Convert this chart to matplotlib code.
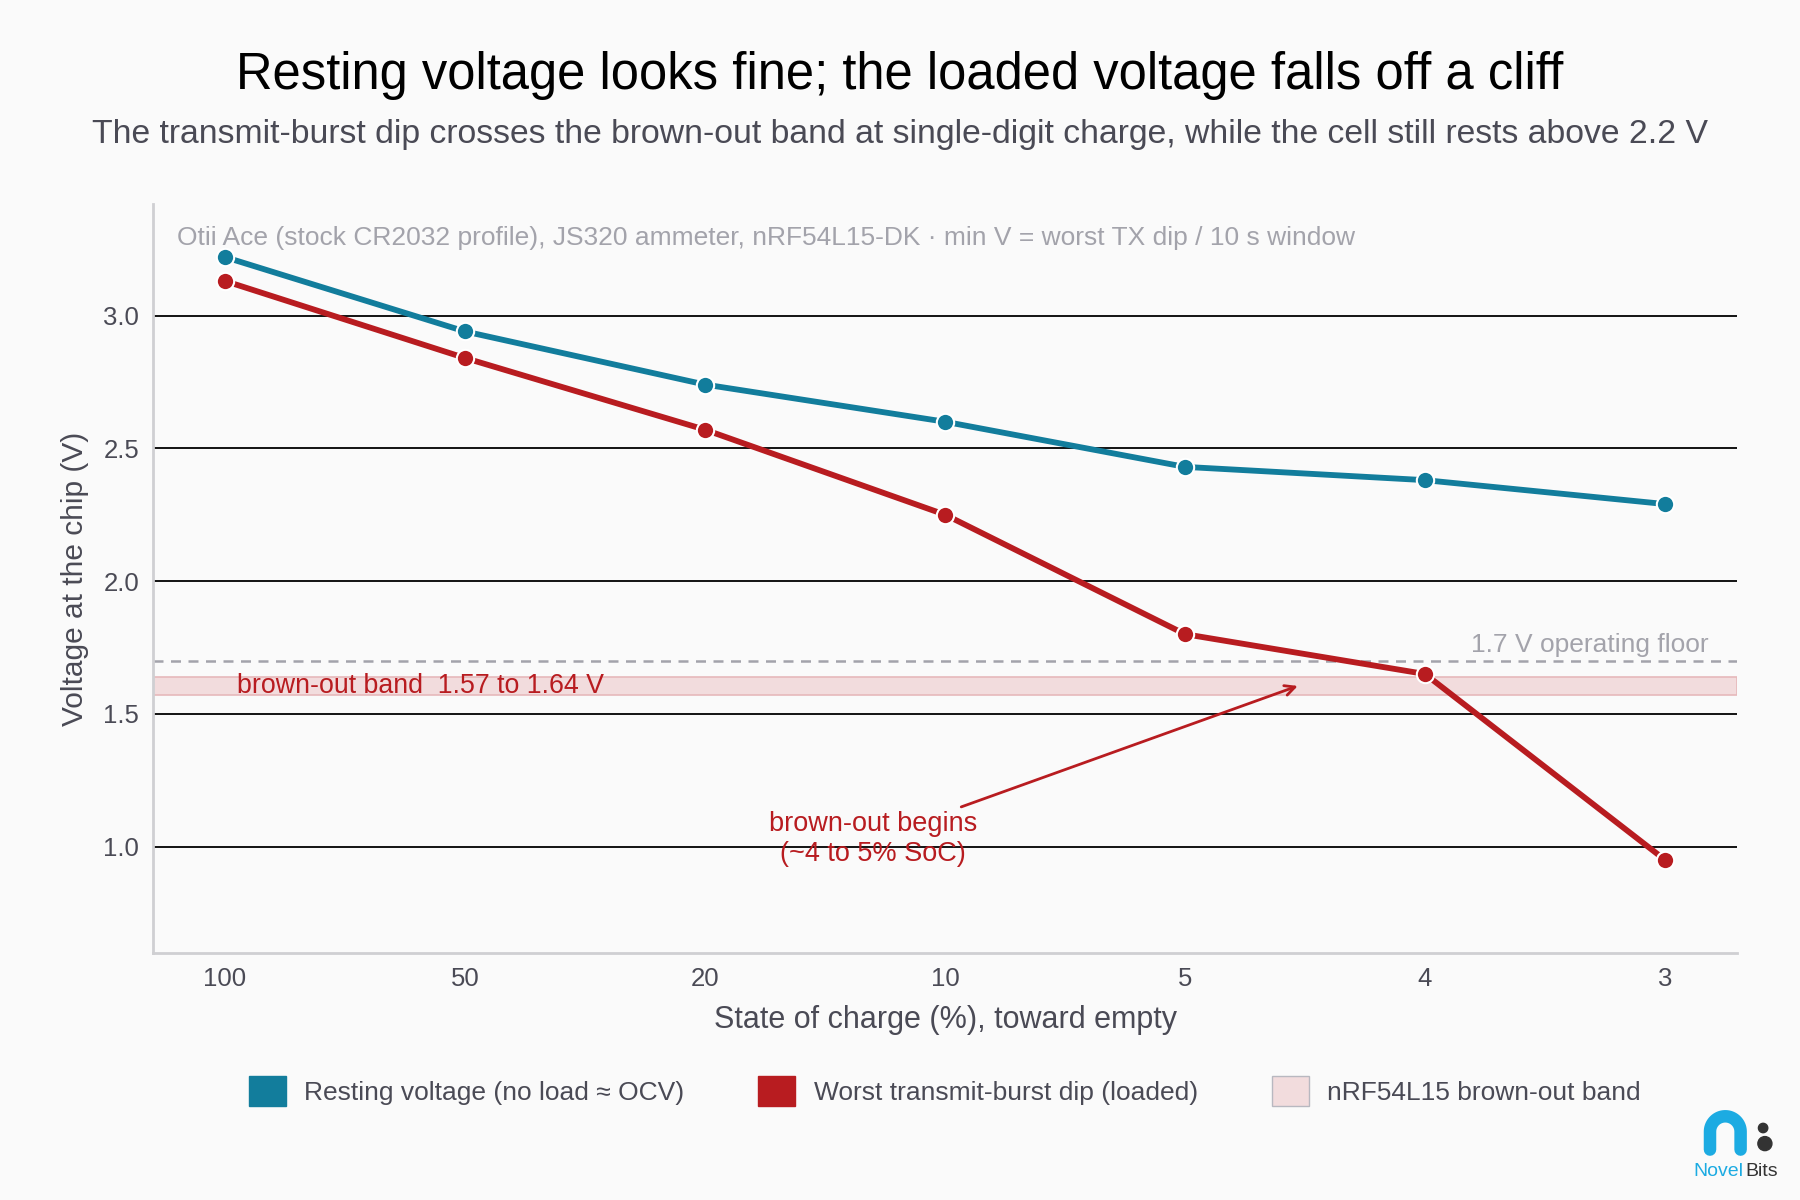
import matplotlib.pyplot as plt
from matplotlib.patches import Patch, Ellipse
import numpy as np

plt.rcParams['font.family'] = ['Liberation Sans', 'DejaVu Sans']

# Data
soc_labels = ['100', '50', '20', '10', '5', '4', '3']
resting_v = [3.22, 2.94, 2.74, 2.60, 2.43, 2.38, 2.29]
loaded_v = [3.13, 2.84, 2.57, 2.25, 1.80, 1.65, 0.95]
band_low, band_high = 1.57, 1.64
floor_v = 1.7

teal = '#127d9c'
red = '#b81c20'
band_col = '#f2dcdd'
txt = '#4a4a55'
grey = '#a3a3ab'
bg = '#fafafa'

x = np.arange(len(soc_labels))

fig = plt.figure(figsize=(18, 12), dpi=100, facecolor=bg)
ax = fig.add_axes([0.085, 0.206, 0.88, 0.624], facecolor=bg)

# grid
for v in [1.0, 1.5, 2.0, 2.5, 3.0]:
    ax.axhline(v, color='black', linewidth=1.3, zorder=1)

# brown-out band & floor
ax.axhspan(band_low, band_high, facecolor=band_col, edgecolor='#e6b9bb', linewidth=1.2, zorder=1.5)
ax.axhline(floor_v, color=grey, linestyle=(0, (4, 3)), linewidth=1.8, zorder=1.6)

ax.plot(x, resting_v, color=teal, linewidth=4.2, marker='o', markersize=12.5,
        markeredgecolor='white', markeredgewidth=1.5, zorder=4)
ax.plot(x, loaded_v, color=red, linewidth=4.2, marker='o', markersize=12.5,
        markeredgecolor='white', markeredgewidth=1.5, zorder=4)

ax.set_xlim(-0.3, 6.3)
ax.set_ylim(0.6, 3.42)
ax.set_xticks(x)
ax.set_xticklabels(soc_labels)
ax.set_yticks([1.0, 1.5, 2.0, 2.5, 3.0])
ax.set_yticklabels(['1.0', '1.5', '2.0', '2.5', '3.0'])
ax.tick_params(axis='both', length=0, labelsize=18.5, labelcolor=txt, pad=10)
for s in ['top', 'right']:
    ax.spines[s].set_visible(False)
for s in ['left', 'bottom']:
    ax.spines[s].set_color('#cfcfd2')
    ax.spines[s].set_linewidth(2)

ax.set_xlabel('State of charge (%), toward empty', fontsize=22, color=txt, labelpad=10)
ax.set_ylabel('Voltage at the chip (V)', fontsize=21.5, color=txt, labelpad=10)

# text annotations
ax.text(0.015, 0.955, 'Otii Ace (stock CR2032 profile), JS320 ammeter, nRF54L15-DK \u00b7 min V = worst TX dip / 10 s window',
        transform=ax.transAxes, fontsize=19, color=grey, ha='left', va='center')
ax.text(0.05, (band_low + band_high) / 2, 'brown-out band  1.57 to 1.64 V', color=red,
        fontsize=19.3, ha='left', va='center', zorder=5)
ax.text(6.18, floor_v + 0.015, '1.7 V operating floor', color=grey, fontsize=19,
        ha='right', va='bottom', zorder=5)
ax.annotate('brown-out begins\n(~4 to 5% SoC)', xy=(4.47, 1.605), xytext=(2.7, 1.03),
            color=red, fontsize=19.5, ha='center', va='center', zorder=6,
            arrowprops=dict(arrowstyle='->', color=red, linewidth=2, mutation_scale=18,
                            shrinkA=2, shrinkB=0))

# titles
fig.text(0.5, 0.937, 'Resting voltage looks fine; the loaded voltage falls off a cliff',
         ha='center', va='center', fontsize=36.5, color='black')
fig.text(0.5, 0.888, 'The transmit-burst dip crosses the brown-out band at single-digit charge, while the cell still rests above 2.2 V',
         ha='center', va='center', fontsize=24.3, color=txt)

# legend
handles = [Patch(facecolor=teal, edgecolor=teal, label='Resting voltage (no load \u2248 OCV)'),
           Patch(facecolor=red, edgecolor=red, label='Worst transmit-burst dip (loaded)'),
           Patch(facecolor=band_col, edgecolor='#b8b8c0', label='nRF54L15 brown-out band')]
fig.legend(handles=handles, loc='center', bbox_to_anchor=(0.525, 0.091), ncol=3,
           frameon=False, fontsize=19, labelcolor=txt, handlelength=1.4, handleheight=1.4,
           columnspacing=2.8, handletextpad=0.7)

# logo
arch = np.linspace(np.pi, 0, 40)
cx, cy, r = 0.9585, 0.057, 0.0085
xs = np.concatenate([[cx - r, cx - r], cx + r * np.cos(arch), [cx + r, cx + r]])
ys = np.concatenate([[0.042, cy], cy + r * 1.5 * np.sin(arch), [cy, 0.042]])
fig.add_artist(plt.Line2D(xs, ys, color='#1cabe2', linewidth=9, solid_capstyle='round',
                          transform=fig.transFigure))
fig.add_artist(Ellipse((0.9795, 0.060), 0.0052, 0.0078, transform=fig.transFigure, color='#333333'))
fig.add_artist(Ellipse((0.9805, 0.047), 0.0078, 0.0117, transform=fig.transFigure, color='#333333'))
fig.text(0.9685, 0.0235, 'Novel', color='#1cabe2', fontsize=14, ha='right', va='center')
fig.text(0.9695, 0.0235, 'Bits', color='#333333', fontsize=14, ha='left', va='center')

fig.savefig('out.png', dpi=100, facecolor=bg)
